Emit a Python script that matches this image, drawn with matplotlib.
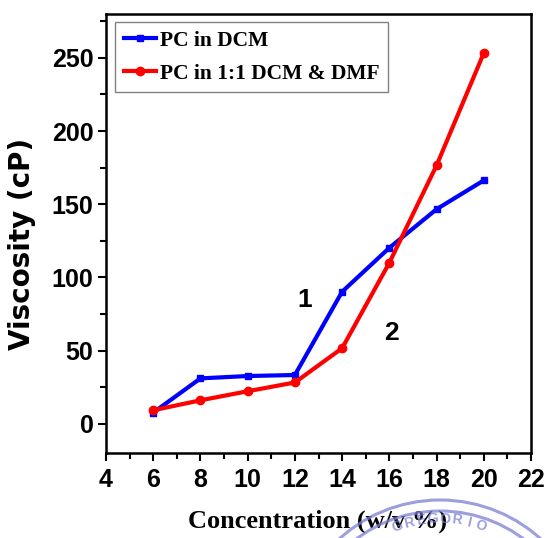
import matplotlib
matplotlib.use("Agg")
import matplotlib.pyplot as plt
import numpy as np
from matplotlib.patches import Circle
from matplotlib.ticker import MultipleLocator

# Data
conc = [6, 8, 10, 12, 14, 16, 18, 20]
visc_dcm = [7.6, 31, 32.6, 33.3, 90.2, 120.2, 146.6, 166.3]
visc_mix = [9.2, 16, 22.2, 28.2, 51.6, 110, 176.5, 253.3]
labels = ["PC in DCM", "PC in 1:1 DCM & DMF"]

sans = "Liberation Sans"
serif = "Liberation Serif"

fig = plt.figure(figsize=(5.47, 5.38), dpi=100)
ax = fig.add_axes([106/547, 85/538, 425/547, 439/538])

ax.plot(conc, visc_dcm, color="#0000FF", lw=3, marker="s", ms=5, label=labels[0])
ax.plot(conc, visc_mix, color="#FF0000", lw=3, marker="o", ms=6, label=labels[1])

ax.set_xlim(4, 22)
ax.set_ylim(-20, 280)
ax.xaxis.set_major_locator(MultipleLocator(2))
ax.xaxis.set_minor_locator(MultipleLocator(1))
ax.yaxis.set_major_locator(MultipleLocator(50))
ax.yaxis.set_minor_locator(MultipleLocator(25))

ax.tick_params(which="major", direction="out", length=6, width=1.5)
ax.tick_params(which="minor", direction="out", length=4, width=1.5)
ax.tick_params(axis="x", which="major", pad=5)
ax.tick_params(axis="y", which="major", pad=3)
for lab in ax.get_xticklabels() + ax.get_yticklabels():
    lab.set_fontfamily(sans)
    lab.set_fontweight("bold")
    lab.set_fontsize(18)
for s in ax.spines.values():
    s.set_linewidth(1.8)

# curve numbers
ax.text(12.43, 84.5, "1", fontfamily=sans, fontweight="bold", fontsize=19,
        ha="center", va="center")
ax.text(16.08, 62, "2", fontfamily=sans, fontweight="bold", fontsize=19,
        ha="center", va="center")

leg = ax.legend(loc="upper left", bbox_to_anchor=(0.021, 0.982), borderaxespad=0,
                prop={"family": serif, "weight": "bold", "size": 15.5},
                fancybox=False, edgecolor="#808080", framealpha=1,
                handlelength=1.5, handletextpad=0.2, borderpad=0.4,
                labelspacing=0.6, numpoints=1)
leg.get_frame().set_linewidth(1.0)

fig.text(318/547, 1 - 528/538, "Concentration (w/v %)", fontfamily=serif,
         fontweight="bold", fontsize=19, ha="center", va="baseline")
fig.text(22/547, 1 - 244/538, "Viscosity (cP)", fontfamily="DejaVu Sans",
         fontweight="bold", fontsize=20, rotation=90, ha="center", va="center")

# faint stamp in the lower right corner
stamp = "#7b7fd4"
cx, cy = 4.40, (538 - 650) / 100
for r in (1.50, 1.39):
    fig.add_artist(Circle((cx, cy), r, transform=fig.dpi_scale_trans, fill=False,
                          edgecolor=stamp, lw=2.2, alpha=0.75, zorder=5))
word = "GREGORIO"
for i, ch in enumerate(word):
    ang = np.deg2rad(-19 + 5.3 * i)
    rr = 1.31
    fig.text(cx + rr * np.sin(ang), cy + rr * np.cos(ang), ch,
             transform=fig.dpi_scale_trans, fontfamily=sans, fontweight="bold",
             fontsize=10, color=stamp, alpha=0.75, rotation=-np.rad2deg(ang),
             ha="center", va="center", zorder=5)

fig.savefig("out.png", dpi=100)
